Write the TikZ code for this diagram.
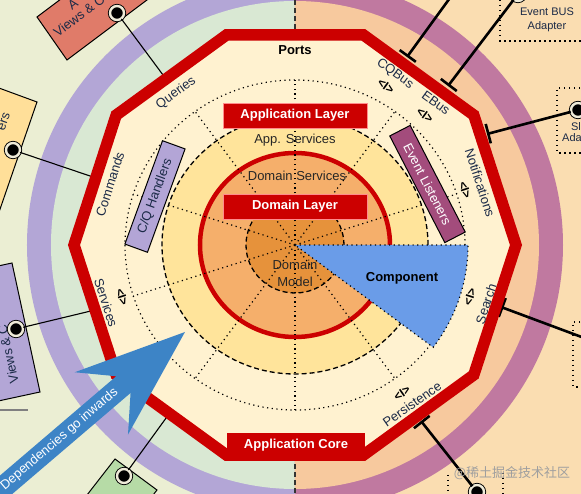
\documentclass[tikz,border=0pt]{standalone}
\usepackage{fontspec}
\setmainfont{Liberation Sans}
\newfontfamily\cjkfont{Noto Sans CJK SC}
\usetikzlibrary{arrows.meta}
\definecolor{leftbg}{HTML}{EBEED3}
\definecolor{leftring}{HTML}{D9E8D3}
\definecolor{leftband}{HTML}{B3A6D6}
\definecolor{rightbg}{HTML}{FADDB1}
\definecolor{rightring}{HTML}{F7C99E}
\definecolor{rightband}{HTML}{C079A0}
\definecolor{corecream}{HTML}{FFF2D0}
\definecolor{corered}{HTML}{CC0000}
\definecolor{appyellow}{HTML}{FFE49B}
\definecolor{domorange}{HTML}{F5AF6B}
\definecolor{modelorange}{HTML}{E6923B}
\definecolor{compblue}{HTML}{6A9CE8}
\definecolor{arrowblue}{HTML}{3D84C6}
\definecolor{handlerlilac}{HTML}{B3A5D6}
\definecolor{listenerplum}{HTML}{A34C7C}
\definecolor{salmon}{HTML}{E07B69}
\definecolor{paleyellow}{HTML}{FFDF99}
\definecolor{palegreen}{HTML}{B6DBA6}
\definecolor{ink}{HTML}{1B2A47}
\definecolor{socketring}{HTML}{EFEBD8}
\newcommand{\lblsize}{\fontsize{13}{15}\selectfont}
\newcommand{\smallsize}{\fontsize{11}{13}\selectfont}

\begin{document}
\begin{tikzpicture}[x=1pt,y=1pt,
  port/.style={font=\lblsize, text=ink, inner sep=0pt},
  corelbl/.style={font=\lblsize, text=black!85, inner sep=0pt},
  iface/.style={font=\bfseries\fontsize{12}{14}\selectfont, text=black, inner sep=0pt},
  layerbox/.style={fill=corered, draw=red!45, line width=0.8pt, text=white, font=\bfseries\lblsize, minimum width=144pt, minimum height=25pt, inner sep=0pt},
  handlerbox/.style={draw=black, line width=1pt, font=\lblsize, minimum height=24pt, inner sep=0pt},
  socket/.style={circle, fill=black, draw=black, double=socketring, double distance=2.4pt, line width=0.9pt, minimum size=14pt, inner sep=0pt},
  wire/.style={line width=1.1pt},
  tbar/.style={line width=2.6pt, -{Bar[width=20pt]}},
  dotline/.style={line width=1.2pt, dash pattern=on 1.2pt off 3.5pt},
  dashline/.style={line width=1.3pt, dash pattern=on 5pt off 3pt},
  adapterbox/.style={line width=1.5pt, dash pattern=on 1.5pt off 3.5pt},
  outerbox/.style={draw=black, line width=1pt}]
  \useasboundingbox (-295,-249) rectangle (286,245);
  \clip (-295,-249) rectangle (286,245);

  \begin{scope}
    \clip (-295,-249) rectangle (0,245);
    \fill[leftbg] (-295,-249) rectangle (0,245);
    \fill[leftband] (0,0) circle (268pt);
    \fill[leftring] (0,0) circle (244pt);
  \end{scope}
  \begin{scope}
    \clip (0,-249) rectangle (286,245);
    \fill[rightbg] (0,-249) rectangle (286,245);
    \fill[rightband] (0,0) circle (268pt);
    \fill[rightring] (0,0) circle (244pt);
  \end{scope}
  \draw[line width=1.4pt, black!80, dash pattern=on 5pt off 3pt] (0,245) -- (0,-249);

  \filldraw[fill=salmon, outerbox] (-258,228) -- (-228,185) -- (-108,275) -- (-138,318) -- cycle;
  \node[port, rotate=37] (viewsa) at (-222,241) {A};
  \node[port, rotate=37, anchor=west] (viewsb) at (-240,211) {Views \& C};
  \filldraw[fill=paleyellow, outerbox] (-258,143) -- (-307,1) -- (-356,19) -- (-307,161) -- cycle;
  \node[port, rotate=71] (handlersa) at (-291,123) {ers};
  \filldraw[fill=leftband, outerbox] (-283,-18) -- (-255,-147) -- (-306,-158) -- (-334,-29) -- cycle;
  \node[port, rotate=102] (viewsc) at (-287,-109) {Views \& C};
  \filldraw[fill=palegreen, outerbox] (-180,-214) -- (-138,-245) -- (-187,-308) -- (-229,-277) -- cycle;
  \draw[gray, line width=1.2pt] (-295,-165) -- (-267,-165);

  \draw[adapterbox] (205,260) -- (205,204) -- (300,204);
  \node[port, font=\smallsize] (busa) at (252,233) {Event BUS};
  \node[port, font=\smallsize] (busb) at (252,218) {Adapter};
  \draw[adapterbox] (300,157) -- (262,157) -- (262,92) -- (300,92);
  \node[port, font=\smallsize] (sla) at (281,118) {Sl};
  \node[port, font=\smallsize] (slb) at (277,107) {Ada};
  \draw[adapterbox] (300,-77) -- (278,-77) -- (278,-142) -- (300,-142);
  \draw[adapterbox] (153,-230) -- (153,-260);
  \draw[adapterbox] (208,-228) -- (208,-260);

  \node[socket] (viewsock) at (-178,232) {};
  \coordinate (queryport) at (-129,166);
  \draw[wire] (viewsock) -- (queryport);
  \node[socket] (handlersock) at (-282,95) {};
  \coordinate (commandport) at (-199,67);
  \draw[wire] (handlersock) -- (commandport);
  \node[socket] (clisock) at (-279,-84) {};
  \coordinate (serviceport) at (-200,-65);
  \draw[wire] (clisock) -- (serviceport);
  \node[socket] (greensock) at (-171,-231) {};
  \coordinate (lowport) at (-126,-169);
  \draw[wire] (greensock) -- (lowport);

  \coordinate (cqbusfree) at (160,254);
  \coordinate (cqbusport) at (112,188);
  \draw[tbar] (cqbusfree) -- (cqbusport);
  \node[socket] (ebussock) at (223,251) {};
  \coordinate (ebusport) at (153,159);
  \draw[tbar] (ebussock) -- (ebusport);
  \node[socket] (notifsock) at (283,135) {};
  \coordinate (notifport) at (192,111);
  \draw[tbar] (notifsock) -- (notifport);
  \coordinate (searchfree) at (300,-97);
  \coordinate (searchport) at (206,-62);
  \draw[tbar] (searchfree) -- (searchport);
  \node[socket] (persistsock) at (182,-247) {};
  \coordinate (persistport) at (126,-176);
  \draw[tbar] (persistsock) -- (persistport);

  \filldraw[fill=corecream, draw=corered, line width=11.5pt] (0:221) \foreach \a in {36,72,...,324}{ -- (\a:221)} -- cycle;
  \draw[dotline] (0,0) ellipse [x radius=170pt, y radius=165pt];
  \filldraw[fill=appyellow, dashline] (0,0) ellipse [x radius=133pt, y radius=129pt];
  \filldraw[fill=domorange, draw=corered, line width=4.5pt] (0,0) ellipse [x radius=95pt, y radius=92pt];
  \filldraw[fill=modelorange, dashline] (0,0) ellipse [x radius=49pt, y radius=48pt];
  \foreach \a in {18,54,...,342}
    \draw[dotline] (0,0) -- ({170*cos(\a)},{165*sin(\a)});
  \filldraw[fill=compblue, draw=black, dotline] (0,0) -- (173,0) arc[start angle=0, end angle=-37, x radius=173pt, y radius=170pt] -- cycle;

  \node[port, font=\bfseries\lblsize, text=black] (ports) at (0,195) {Ports};
  \node[port, rotate=36] (queries) at (-119,152) {Queries};
  \node[port, rotate=72] (commands) at (-185,61) {Commands};
  \node[port, rotate=-72] (services) at (-189,-58) {Services};
  \node[iface, rotate=-72] (servicesif) at (-173,-52) {<I>};
  \node[port, rotate=-36] (cqbus) at (100,171) {CQBus};
  \node[iface, rotate=-36] (cqbusif) at (91,159) {<I>};
  \node[port, rotate=-36] (ebus) at (141,142) {EBus};
  \node[iface, rotate=-36] (ebusif) at (130,130) {<I>};
  \node[port, rotate=-72] (notif) at (185,62) {Notifications};
  \node[iface, rotate=-72] (notifif) at (170,55) {<I>};
  \node[port, rotate=72] (search) at (191,-59) {Search};
  \node[iface, rotate=72] (searchif) at (175,-52) {<I>};
  \node[port, rotate=35] (persist) at (117,-159) {Persistence};
  \node[iface, rotate=35] (persistif) at (107,-148) {<I>};

  \node[handlerbox, fill=handlerlilac, text=ink, rotate=70, minimum width=110pt] (cqhandlers) at (-140,48.5) {C/Q Handlers};
  \node[handlerbox, fill=listenerplum, text=white, rotate=-62.7, minimum width=120pt, minimum height=23pt] (listeners) at (132.5,61) {Event Listeners};

  \node[layerbox] (applayer) at (0,129.5) {Application Layer};
  \node[corelbl] (appsvc) at (0,105) {App. Services};
  \node[corelbl] (domsvc) at (2,69) {Domain Services};
  \node[layerbox] (domlayer) at (0,38.5) {Domain Layer};
  \node[corelbl, align=center, font=\fontsize{13}{17}\selectfont] (dommodel) at (0,-28.5) {Domain\\Model};
  \node[port, font=\bfseries\lblsize, text=black] (component) at (107,-33) {Component};
  \node[layerbox, minimum width=138pt, minimum height=24pt, draw=none] (appcore) at (1,-200) {Application Core};

  \begin{scope}[shift={(-110,-87)}, rotate=40.5]
    \fill[arrowblue] (0,0) -- (-110,41) -- (-81,11) -- (-340,11) -- (-340,-11) -- (-81,-11) -- (-110,-41) -- cycle;
    \node[transform shape, text=white, font=\lblsize, inner sep=0pt] (deps) at (-165,0) {Dependencies go inwards};
  \end{scope}

  \node[font=\cjkfont\lblsize, text=gray!75, inner sep=0pt] (mark) at (217,-228) {@稀土掘金技术社区};
\end{tikzpicture}
\end{document}
